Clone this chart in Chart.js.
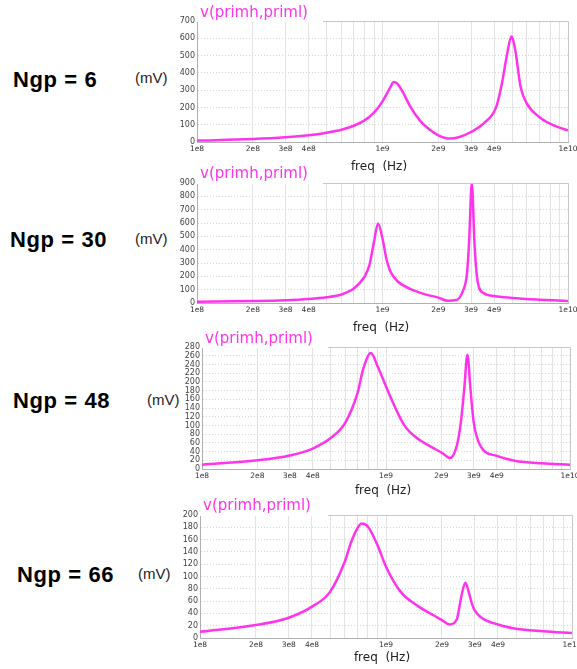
<!DOCTYPE html>
<html>
<head>
<meta charset="utf-8">
<script src="https://cdn.jsdelivr.net/npm/chart.js@4.4.1/dist/chart.umd.min.js"></script>
<style>
  body { margin: 0; width: 577px; height: 669px; overflow: hidden; position: relative; background: #fff; font-family: "DejaVu Sans", sans-serif; }
  canvas { position: absolute; }
  .lbl { position: absolute; white-space: pre; line-height: 1; }
  .ngp { font: bold 22px "Liberation Sans", Arial, sans-serif; letter-spacing: 0.6px; color: #000; }
  .unit { font: 15px "Liberation Sans", Arial, sans-serif; color: #222; }
  .ttl { font-size: 15px; color: #ff33ee; background: #fff; padding-left: 3px; box-sizing: border-box; }
  .fq { font-size: 12px; color: #222; transform: translateX(-50%); }
</style>
</head>
<body>

<div class="lbl ngp" style="left:13px;top:67px">Ngp = 6</div>
<div class="lbl unit" style="left:135px;top:69px">(mV)</div>
<div class="lbl ngp" style="left:10px;top:227px">Ngp = 30</div>
<div class="lbl unit" style="left:135px;top:230px">(mV)</div>
<div class="lbl ngp" style="left:13px;top:388px">Ngp = 48</div>
<div class="lbl unit" style="left:147px;top:391px">(mV)</div>
<div class="lbl ngp" style="left:17px;top:562px">Ngp = 66</div>
<div class="lbl unit" style="left:138px;top:565px">(mV)</div>

<canvas id="c6" width="430" height="143" style="left:160px;top:13px"></canvas>
<canvas id="c30" width="430" height="142" style="left:160px;top:175px"></canvas>
<canvas id="c48" width="425" height="144" style="left:165px;top:339px"></canvas>
<canvas id="c66" width="427" height="145" style="left:163px;top:507px"></canvas>

<div class="lbl ttl" style="left:197px;top:5px;width:126px;height:17px">v(primh,priml)</div>
<div class="lbl ttl" style="left:197px;top:166px;width:126px;height:18px">v(primh,priml)</div>
<div class="lbl ttl" style="left:202px;top:331px;width:126px;height:17px">v(primh,priml)</div>
<div class="lbl ttl" style="left:200px;top:498px;width:128px;height:18px">v(primh,priml)</div>

<div class="lbl fq" style="left:379px;top:160px">freq  (Hz)</div>
<div class="lbl fq" style="left:381px;top:321px">freq  (Hz)</div>
<div class="lbl fq" style="left:383px;top:484px">freq  (Hz)</div>
<div class="lbl fq" style="left:382px;top:651px">freq  (Hz)</div>

<script>
// x axis: grid lines at every 1..9 x decade, labels only at some of them
const xGridValues = [1e8, 2e8, 3e8, 4e8, 5e8, 6e8, 7e8, 8e8, 9e8,
                     1e9, 2e9, 3e9, 4e9, 5e9, 6e9, 7e9, 8e9, 9e9, 1e10];
const xLabelValues = [1e8, 2e8, 3e8, 4e8, 1e9, 2e9, 3e9, 4e9, 1e10];
const xLabelTexts = ['1e8', '2e8', '3e8', '4e8', '1e9', '2e9', '3e9', '4e9', '1e10'];

// Ngp = 6
const freq6 = [1e8, 2e8, 3e8, 4e8, 5e8, 6e8, 7e8, 8e8, 9e8, 1e9, 1.1e9, 1.15e9, 1.2e9, 1.3e9, 1.4e9,
               1.6e9, 1.8e9, 2e9, 2.3e9, 2.6e9, 3e9, 3.5e9, 4.1e9, 4.4e9, 4.7e9, 4.95e9, 5.2e9, 5.55e9,
               6e9, 7e9, 8e9, 9e9, 1e10];
const mv6 = [8, 17, 27, 39, 54, 71, 94, 125, 170, 235, 314, 347, 337, 280, 212,
             121, 71, 39, 20, 29, 58, 106, 202, 337, 511, 611, 530, 320,
             222, 145, 106, 83, 67];

// Ngp = 30
const freq30 = [1e8, 2e8, 3e8, 4e8, 5e8, 6e8, 7e8, 8e8, 8.5e8, 9e8, 9.46e8, 1e9, 1.05e9, 1.1e9, 1.2e9,
                1.4e9, 1.7e9, 2e9, 2.25e9, 2.5e9, 2.71e9, 2.85e9, 2.93e9, 3.03e9, 3.13e9, 3.22e9, 3.3e9,
                3.5e9, 4e9, 5e9, 7e9, 1e10];
const mv30 = [10, 15, 21, 30, 43, 64, 108, 197, 284, 459, 596, 484, 330, 240, 165,
              108, 65, 40, 17, 22, 89, 214, 457, 900, 457, 214, 125,
              75, 52, 38, 25, 15];

// Ngp = 48
const freq48 = [1e8, 2e8, 3e8, 4e8, 5e8, 6e8, 7e8, 7.5e8, 8.28e8, 9e8, 1.05e9, 1.25e9, 1.47e9, 1.74e9, 2.05e9,
                2.22e9, 2.42e9, 2.55e9, 2.66e9, 2.77e9, 2.88e9, 3e9, 3.27e9, 4e9, 5e9, 7e9, 1e10];
const mv48 = [10, 20, 31, 47, 71, 106, 174, 228, 266, 236, 168, 102, 71, 52, 35,
              25, 52, 106, 182, 262, 182, 106, 52, 30, 19, 13, 10];

// Ngp = 66
const freq66 = [1e8, 2e8, 3e8, 4e8, 5e8, 6e8, 6.5e8, 7e8, 7.41e8, 8e8, 9e8, 1e9, 1.2e9, 1.5e9, 1.8e9,
                2e9, 2.2e9, 2.4e9, 2.55e9, 2.67e9, 2.8e9, 2.9e9, 3e9, 3.2e9, 3.5e9, 4e9, 5e9, 7e9, 1e10];
const mv66 = [10, 21, 33, 51, 75, 124, 156, 178, 186, 181, 151, 116, 75, 51, 37,
              29, 22, 30, 70, 90, 72, 55, 45, 35, 28, 22, 15, 11, 8];

const magenta = '#ff33ee';

// draws the top/right frame of the plot area
const framePlugin = {
  id: 'frame',
  afterDraw(chart) {
    const a = chart.chartArea, ctx = chart.ctx;
    ctx.save();
    ctx.strokeStyle = '#c8c8c8';
    ctx.lineWidth = 1;
    ctx.beginPath();
    ctx.moveTo(a.left, a.top + 0.5);
    ctx.lineTo(a.right + 0.5, a.top + 0.5);
    ctx.lineTo(a.right + 0.5, a.bottom);
    ctx.stroke();
    ctx.restore();
  }
};

function makePanel(id, freq, mv, yMax, yStep, padRight) {
  new Chart(document.getElementById(id), {
    type: 'line',
    data: {
      datasets: [{
        data: freq.map((f, i) => ({ x: f, y: mv[i] })),
        borderColor: magenta,
        borderWidth: 2.5,
        pointRadius: 0,
        cubicInterpolationMode: 'monotone',
        fill: false
      }]
    },
    options: {
      responsive: false,
      animation: false,
      layout: { padding: { top: 8, right: padRight, bottom: 0, left: 0 } },
      plugins: { legend: { display: false }, tooltip: { enabled: false } },
      scales: {
        x: {
          type: 'logarithmic',
          min: 1e8,
          max: 1e10,
          afterBuildTicks: scale => { scale.ticks = xGridValues.map(v => ({ value: v })); },
          afterFit: scale => { scale.height = 14; },
          grid: { color: '#e3e3e3', drawTicks: false },
          border: { color: '#b0b0b0' },
          ticks: {
            autoSkip: false,
            maxRotation: 0,
            padding: 3,
            color: '#333',
            font: { family: 'DejaVu Sans', size: 7.5 },
            callback: v => {
              const k = xLabelValues.indexOf(v);
              return k < 0 ? '' : xLabelTexts[k];
            }
          }
        },
        y: {
          min: 0,
          max: yMax,
          afterFit: scale => { scale.width = 37; },
          grid: { color: '#d6d6d6', drawTicks: false },
          border: { color: '#b0b0b0', dash: [1, 2] },
          ticks: {
            stepSize: yStep,
            autoSkip: false,
            padding: 2,
            color: '#444',
            font: { family: 'DejaVu Sans', size: 8 }
          }
        }
      }
    },
    plugins: [framePlugin]
  });
}

makePanel('c6', freq6, mv6, 700, 100, 22);
makePanel('c30', freq30, mv30, 900, 100, 22);
makePanel('c48', freq48, mv48, 280, 20, 20);
makePanel('c66', freq66, mv66, 200, 20, 18);
</script>
</body>
</html>
